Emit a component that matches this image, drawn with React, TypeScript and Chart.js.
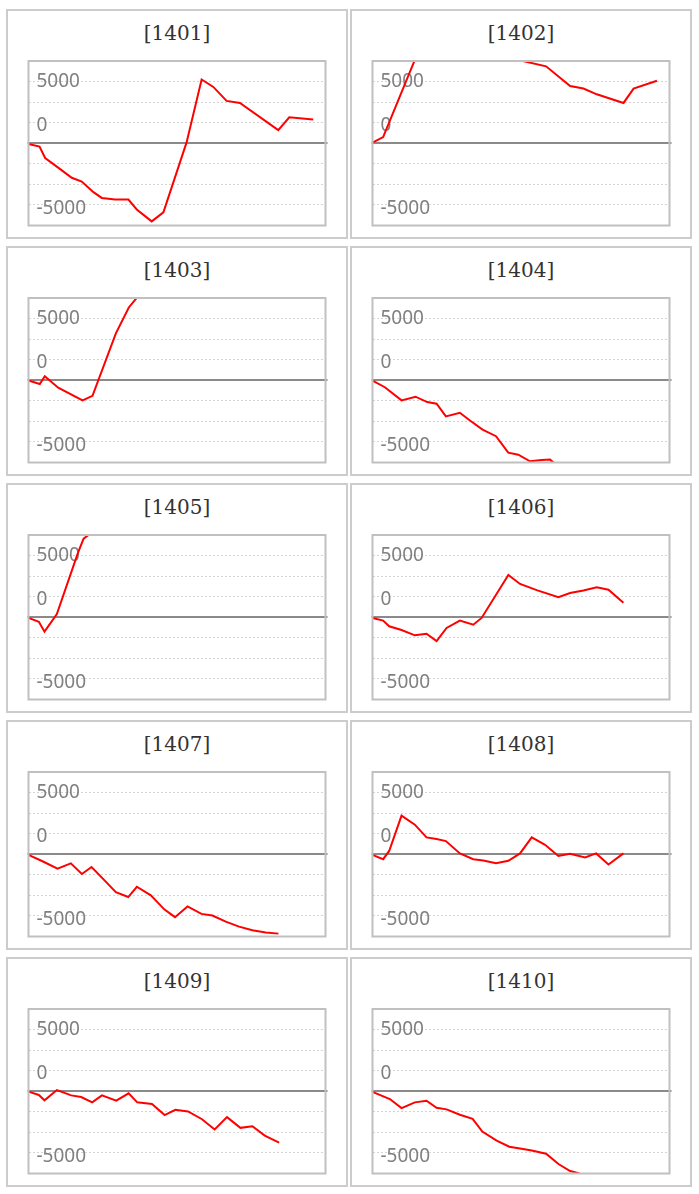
import React, { useEffect, useRef } from 'react';
import { Chart, registerables } from 'chart.js';

Chart.register(...registerables);

// ---- data (x = position in month, y = cumulative value) ----
const TITLES = ['1401', '1402', '1403', '1404', '1405', '1406', '1407', '1408', '1409', '1410'];

const DAYS_1401 = [0, 1.15, 1.74, 3.13, 4.52, 5.56, 6.78, 7.65, 9.04, 10.43, 11.3, 12.86, 14.08, 16.5, 18.07, 19.29, 20.68, 22.07, 26.07, 27.22, 29.72];
const VALUES_1401 = [-100, -400, -1800, -3000, -4200, -4650, -5950, -6650, -6850, -6850, -8050, -9500, -8400, 100, 7750, 6850, 5150, 4900, 1600, 3150, 2900];

const DAYS_1402 = [0, 1.11, 5.5, 8.5, 11.5, 14, 18.12, 20.63, 22.02, 23.41, 26.2, 27.25, 29.69];
const VALUES_1402 = [80, 750, 13200, 14800, 13500, 10450, 9350, 6950, 6650, 5950, 4900, 6650, 7600];

const DAYS_1403 = [0, 1.18, 1.7, 3.1, 5.64, 6.68, 9.12, 10.47, 12, 15, 18, 21, 24, 27, 29.7];
const VALUES_1403 = [-40, -450, 500, -900, -2450, -1900, 5700, 8850, 11000, 12500, 13500, 12800, 14000, 13800, 14500];

const DAYS_1404 = [0, 1.29, 3.03, 4.49, 5.71, 6.69, 7.66, 9.12, 10.17, 11.49, 12.89, 14.17, 15.22, 16.44, 17.66, 18.53, 19.5, 22, 25, 27, 29.7];
const VALUES_1404 = [-40, -850, -2450, -2000, -2650, -2850, -4400, -3950, -4900, -6000, -6800, -8800, -9050, -9850, -9700, -9650, -10600, -11500, -12300, -12000, -13000];

const DAYS_1405 = [0, 1.08, 1.67, 2.96, 5.15, 5.75, 6.6, 9, 12, 15, 18, 21, 24, 27, 29.7];
const VALUES_1405 = [-80, -550, -1750, 400, 7800, 9550, 10300, 12000, 13500, 12500, 14000, 15000, 14200, 15500, 16000];

const DAYS_1406 = [0, 1.11, 1.74, 3.03, 4.42, 5.64, 6.69, 7.73, 9.12, 10.52, 11.39, 14.18, 15.4, 17.14, 19.4, 20.62, 22.01, 23.41, 24.63, 26.19];
const VALUES_1406 = [-80, -400, -1100, -1550, -2200, -2000, -2900, -1300, -400, -900, -80, 5150, 4050, 3300, 2450, 2950, 3250, 3650, 3350, 1750];

const DAYS_1407 = [0, 1.46, 3.03, 4.42, 5.57, 6.58, 7.91, 9.12, 10.41, 11.31, 12.77, 14.17, 15.29, 16.6, 18.05, 19.2, 20.59, 21.98, 23.37, 24.76, 26.09];
const VALUES_1407 = [-80, -850, -1750, -1100, -2400, -1550, -3150, -4600, -5200, -3950, -5000, -6700, -7650, -6350, -7250, -7450, -8200, -8800, -9250, -9500, -9650];

const DAYS_1408 = [0, 1.11, 1.74, 3.03, 4.42, 5.64, 6.69, 7.66, 9.12, 10.52, 11.56, 12.89, 14.18, 15.4, 16.62, 18.01, 19.4, 20.62, 22.19, 23.34, 24.63, 26.19];
const VALUES_1408 = [-80, -600, 400, 4700, 3600, 2050, 1850, 1600, 100, -600, -750, -1100, -800, 100, 2050, 1150, -200, 50, -400, 100, -1250, 100];

const DAYS_1409 = [0, 1.08, 1.67, 2.96, 4.46, 5.5, 6.65, 7.66, 9.16, 10.45, 11.35, 12.89, 14.21, 15.33, 16.65, 18.11, 19.43, 20.72, 22.12, 23.37, 24.66, 26.16];
const VALUES_1409 = [-40, -450, -1100, 150, -500, -700, -1350, -500, -1150, -250, -1350, -1550, -2900, -2250, -2450, -3400, -4650, -3150, -4450, -4250, -5400, -6250];

const DAYS_1410 = [0, 1.81, 3.03, 4.42, 5.64, 6.69, 7.73, 9.12, 10.45, 11.46, 12.96, 14.28, 15.4, 16.62, 18.12, 19.41, 20.63, 21.5, 23, 24.5, 26.2];
const VALUES_1410 = [-80, -950, -2050, -1350, -1150, -2000, -2200, -2850, -3350, -4900, -6000, -6750, -6950, -7200, -7600, -8850, -9700, -9950, -10700, -11300, -11800];

const ALL_DAYS = [DAYS_1401, DAYS_1402, DAYS_1403, DAYS_1404, DAYS_1405, DAYS_1406, DAYS_1407, DAYS_1408, DAYS_1409, DAYS_1410];
const ALL_VALUES = [VALUES_1401, VALUES_1402, VALUES_1403, VALUES_1404, VALUES_1405, VALUES_1406, VALUES_1407, VALUES_1408, VALUES_1409, VALUES_1410];

// axis settings
const Y_MIN = -10000;
const Y_MAX = 10000;
const Y_STEP = 2500;
const X_MIN = 0;
const X_MAX = 31;
const LABEL_VALUES = [7500, 2130, -7950];
const LABEL_TEXTS = ['5000', '0', '-5000'];

const framePlugin = {
  id: 'frame',
  beforeDatasetsDraw(chart: any) {
    const { ctx, chartArea: a, scales } = chart;
    const y0 = Math.round(scales.y.getPixelForValue(0));
    ctx.save();
    ctx.strokeStyle = '#8a8a8a';
    ctx.lineWidth = 2;
    ctx.beginPath();
    ctx.moveTo(a.left - 1, y0);
    ctx.lineTo(a.right + 2, y0);
    ctx.stroke();
    ctx.restore();
  },
  afterDatasetsDraw(chart: any) {
    const { ctx, chartArea: a } = chart;
    ctx.save();
    ctx.strokeStyle = '#c0c0c0';
    ctx.lineWidth = 2;
    ctx.strokeRect(a.left, a.top, a.right - a.left, a.bottom - a.top);
    ctx.restore();
  },
};

const zeroPad = (s: any) => {
  s.paddingTop = 0;
  s.paddingBottom = 0;
  s.paddingLeft = 0;
  s.paddingRight = 0;
  s.width = 0;
};

function MiniChart({ days, values }: { days: number[]; values: number[] }) {
  const ref = useRef<HTMLCanvasElement | null>(null);
  useEffect(() => {
    if (!ref.current) return;
    const chart = new Chart(ref.current, {
      type: 'line',
      data: {
        datasets: [
          {
            data: days.map((d, i) => ({ x: d, y: values[i] })),
            borderColor: '#ff0000',
            borderWidth: 2,
            pointRadius: 0,
            tension: 0,
            fill: false,
            clip: 0,
            xAxisID: 'x',
            yAxisID: 'y',
          } as any,
        ],
      },
      options: {
        animation: false,
        responsive: true,
        maintainAspectRatio: false,
        events: [],
        layout: { padding: { left: 4.5, right: 4.5, top: 4, bottom: 4.5 } },
        plugins: { legend: { display: false }, tooltip: { enabled: false }, title: { display: false } },
        scales: {
          x: { type: 'linear', min: X_MIN, max: X_MAX, display: false },
          y: {
            type: 'linear',
            axis: 'y',
            position: 'left',
            min: Y_MIN,
            max: Y_MAX,
            ticks: { stepSize: Y_STEP, display: false },
            grid: {
              drawTicks: false,
              lineWidth: 1,
              color: (c: any) => (c.tick && c.tick.value === 0 ? 'rgba(0,0,0,0)' : '#d4d4d4'),
            },
            border: { display: false, dash: [2, 2] },
            afterFit: zeroPad,
          },
          yl: {
            type: 'linear',
            axis: 'y',
            position: 'left',
            min: Y_MIN,
            max: Y_MAX,
            afterBuildTicks: (s: any) => {
              s.ticks = LABEL_VALUES.map((v) => ({ value: v }));
            },
            ticks: {
              mirror: true,
              padding: 8,
              color: '#808080',
              font: { family: 'Noto Sans', size: 19 },
              callback: (_v: any, i: number) => LABEL_TEXTS[i],
            },
            grid: { display: false, drawTicks: false },
            border: { display: false },
            afterFit: zeroPad,
          },
        } as any,
      },
      plugins: [framePlugin],
    });
    return () => chart.destroy();
  }, [days, values]);
  return <canvas ref={ref} />;
}

export default function App() {
  return (
    <div style={{ position: 'absolute', left: 0, top: 0, width: 699, height: 1194, background: '#fff' }}>
      {TITLES.map((t, i) => {
        const col = i % 2;
        const row = Math.floor(i / 2);
        return (
          <div
            key={t}
            style={{
              position: 'absolute',
              left: col === 0 ? 6 : 350,
              top: 9 + 237 * row,
              width: 342,
              height: 230,
              boxSizing: 'border-box',
              border: '2px solid #cccccc',
              background: '#fff',
            }}
          >
            <div
              style={{
                position: 'absolute',
                left: 0,
                right: 0,
                top: 10,
                textAlign: 'center',
                fontFamily: '"DejaVu Serif", serif',
                fontSize: 20,
                color: '#333333',
                lineHeight: 'normal',
              }}
            >
              [{t}]
            </div>
            <div style={{ position: 'absolute', left: 16, top: 46, width: 306, height: 173 }}>
              <MiniChart days={ALL_DAYS[i]} values={ALL_VALUES[i]} />
            </div>
          </div>
        );
      })}
    </div>
  );
}
